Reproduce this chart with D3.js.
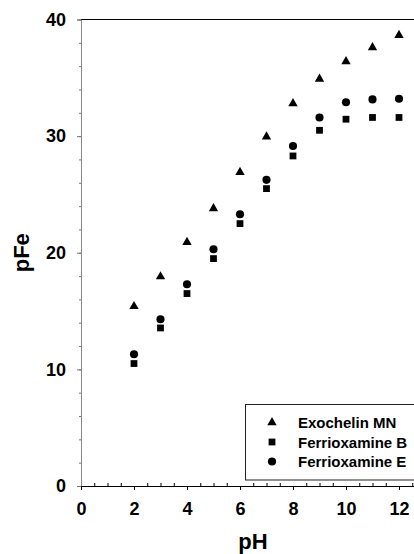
<!DOCTYPE html>
<html>
<head>
<meta charset="utf-8">
<script src="https://cdn.jsdelivr.net/npm/d3@7"></script>
<style>
  body { margin: 0; background: #fff; }
  svg { display: block; font-family: Arial, "Liberation Sans", sans-serif; }
</style>
</head>
<body>
<svg id="chart" width="414" height="554"></svg>
<script>
const ph = [2, 3, 4, 5, 6, 7, 8, 9, 10, 11, 12];
const exochelinMN = [15.4, 17.95, 20.9, 23.8, 26.9, 29.95, 32.8, 34.9, 36.4, 37.6, 38.65];
const ferrioxamineB = [10.5, 13.55, 16.5, 19.5, 22.5, 25.5, 28.3, 30.5, 31.45, 31.6, 31.6];
const ferrioxamineE = [11.3, 14.3, 17.3, 20.3, 23.3, 26.25, 29.15, 31.6, 32.9, 33.15, 33.2];
const xTicks = [0, 2, 4, 6, 8, 10, 12];
const yTicks = [0, 10, 20, 30, 40];

const series = [
    { name: "Exochelin MN", values: exochelinMN, symbol: d3.symbolTriangle, size: 38 },
    { name: "Ferrioxamine B", values: ferrioxamineB, symbol: d3.symbolSquare, size: 46 },
    { name: "Ferrioxamine E", values: ferrioxamineE, symbol: d3.symbolCircle, size: 52 }
];

const svg = d3.select("#chart");
const xscale = d3.scaleLinear().domain([0, 13]).range([81, 81 + 13 * 26.5]);
const yscale = d3.scaleLinear().domain([0, 40]).range([486, 19.5]);

// top frame line
svg.append("line")
    .attr("x1", xscale(0)).attr("x2", xscale(13))
    .attr("y1", yscale(40)).attr("y2", yscale(40))
    .attr("stroke", "#000").attr("stroke-width", 1.2);

// y axis (grey), major + minor ticks pointing left
const yg = svg.append("g").attr("transform", `translate(${xscale(0)},0)`);
yg.call(d3.axisLeft(yscale).tickValues(d3.range(0, 41, 2)).tickSize(2).tickFormat(""))
    .call(g => g.select(".domain").remove());
yg.selectAll(".tick line").attr("stroke", "#777");
yg.append("g")
    .call(d3.axisLeft(yscale).tickValues(yTicks).tickSize(4).tickPadding(11))
    .call(g => g.select(".domain").attr("stroke", "#888"))
    .call(g => g.selectAll(".tick line").attr("stroke", "#777"))
    .call(g => g.selectAll("text")
        .attr("font-size", 18).attr("font-weight", "bold").attr("fill", "#000")
        .attr("font-family", "Arial, 'Liberation Sans', sans-serif"));

// x axis (black), major ticks down, minor ticks up
const xg = svg.append("g").attr("transform", `translate(0,${yscale(0)})`);
xg.append("g")
    .call(d3.axisTop(xscale).tickValues(d3.range(0.5, 13, 1).concat(d3.range(1, 13, 2))).tickSize(3).tickFormat(""))
    .call(g => g.select(".domain").remove())
    .call(g => g.selectAll(".tick line").attr("stroke", "#000"));
xg.append("g")
    .call(d3.axisBottom(xscale).tickValues(xTicks).tickSizeInner(4).tickSizeOuter(0).tickPadding(12))
    .call(g => g.select(".domain").attr("stroke", "#000").attr("stroke-width", 1.2))
    .call(g => g.selectAll(".tick line").attr("stroke", "#000"))
    .call(g => g.selectAll("text")
        .attr("font-size", 18).attr("font-weight", "bold").attr("fill", "#000")
        .attr("font-family", "Arial, 'Liberation Sans', sans-serif"));

// axis titles
svg.append("text")
    .attr("x", 253).attr("y", 549)
    .attr("text-anchor", "middle")
    .attr("font-size", 22).attr("font-weight", "bold")
    .text("pH");
svg.append("text")
    .attr("transform", `translate(29,${yscale(20)}) rotate(-90)`)
    .attr("text-anchor", "middle")
    .attr("font-size", 22).attr("font-weight", "bold")
    .text("pFe");

// points
series.forEach(s => {
    const sym = d3.symbol().type(s.symbol).size(s.size);
    svg.append("g").selectAll("path")
        .data(s.values)
        .join("path")
        .attr("d", sym)
        .attr("transform", (d, i) => `translate(${xscale(ph[i])},${yscale(d)})`)
        .attr("fill", "#000");
});

// legend
const legend = svg.append("g");
legend.append("rect")
    .attr("x", 245.5).attr("y", 404.5)
    .attr("width", 200).attr("height", 75.5)
    .attr("fill", "#fff").attr("stroke", "#222").attr("stroke-width", 1);
series.forEach((s, i) => {
    const y = 422.5 + i * 19.5;
    legend.append("path")
        .attr("d", d3.symbol().type(s.symbol).size(s.size)())
        .attr("transform", `translate(272,${y})`)
        .attr("fill", "#000");
    legend.append("text")
        .attr("x", 298).attr("y", y + 5.5)
        .attr("font-size", 15).attr("font-weight", "bold")
        .text(s.name);
});
</script>
</body>
</html>
